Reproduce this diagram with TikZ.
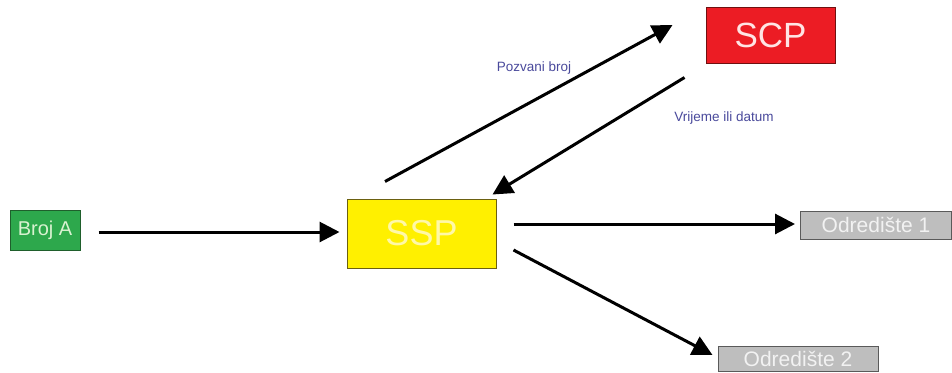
\documentclass[tikz,border=0pt]{standalone}
\usepackage{fontspec}
\setmainfont{Liberation Sans}
\usetikzlibrary{arrows.meta}
\definecolor{grn}{HTML}{2DA84C}
\definecolor{grnB}{HTML}{1F5F2C}
\definecolor{grnT}{HTML}{D8F2D0}
\definecolor{ylw}{HTML}{FFF000}
\definecolor{ylwB}{HTML}{6B6010}
\definecolor{ylwT}{HTML}{FFF8A8}
\definecolor{rd}{HTML}{EC1C24}
\definecolor{rdB}{HTML}{701010}
\definecolor{rdT}{HTML}{FFE4E4}
\definecolor{gry}{HTML}{BEBEBE}
\definecolor{gryB}{HTML}{5A5A5A}
\definecolor{gryT}{HTML}{F2F2F2}
\definecolor{lbl}{HTML}{4A4A9C}
\tikzset{
  boxnode/.style={draw, line width=1pt, inner sep=0pt, align=center},
  flow/.style={line width=3pt, -{Triangle[length=20pt,width=20pt]}},
  lbltext/.style={text=lbl, font=\fontsize{13.5}{15}\selectfont, inner sep=0pt}
}
\begin{document}
\begin{tikzpicture}[x=1pt,y=-1pt]
\useasboundingbox (0,0) rectangle (952,372);
\fill[white] (0,0) rectangle (952,372);
\node[boxnode, fill=grn, draw=grnB, text=grnT, minimum width=70pt, minimum height=40pt,
      font=\fontsize{20}{22}\selectfont] (a) at (45,230) {Broj A};
\node[boxnode, fill=ylw, draw=ylwB, text=ylwT, minimum width=149pt, minimum height=69pt,
      font=\fontsize{36}{40}\selectfont] (ssp) at (421.5,233.5) {SSP};
\node[boxnode, fill=rd, draw=rdB, text=rdT, minimum width=129pt, minimum height=56pt,
      font=\fontsize{35}{40}\selectfont] (scp) at (770.5,35) {SCP};
\node[boxnode, fill=gry, draw=gryB, text=gryT, minimum width=151pt, minimum height=28pt,
      font=\fontsize{21}{23}\selectfont] (o1) at (876,225) {Odredište 1};
\node[boxnode, fill=gry, draw=gryB, text=gryT, minimum width=160pt, minimum height=25pt,
      font=\fontsize{21}{23}\selectfont] (o2) at (798,358.5) {Odredište 2};

\coordinate (a1) at ([xshift=18pt]a.east |- 0,232);
\draw[flow, shorten >=7pt] (a1) -- (a1 -| ssp.west);
\draw[flow] ([shift={(-36.5,-17)}]ssp.north) -- ([shift={(-33,-10)}]scp.west);
\draw[flow] ([shift={(-21,14)}]scp.south west) -- ([shift={(-4,-4)}]ssp.north east);
\draw[flow] ([shift={(17,-9.5)}]ssp.east) -- ([shift={(-5,-1)}]o1.west);
\draw[flow] ([shift={(17,16.5)}]ssp.east) -- ([shift={(-5,-3.5)}]o2.west);

\node[lbltext] (l1) at (534,68) {Pozvani broj};
\node[lbltext] (l2) at (724,118) {Vrijeme ili datum};
\end{tikzpicture}
\end{document}
